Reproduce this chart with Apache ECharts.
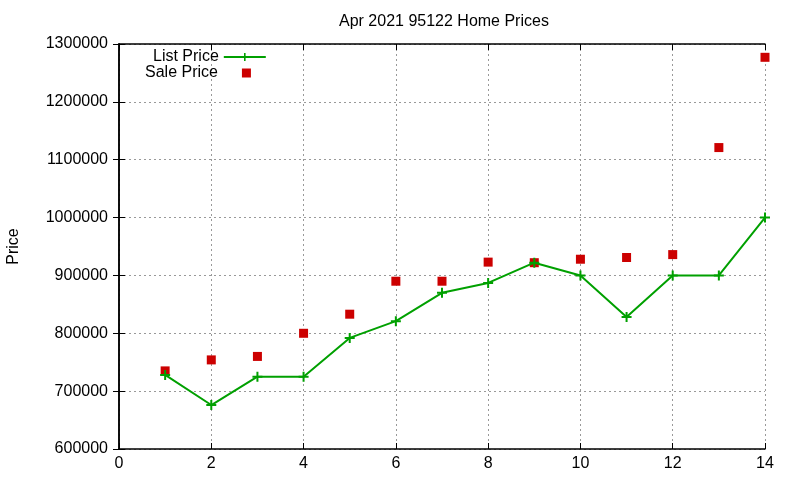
<!DOCTYPE html>
<html>
<head>
<meta charset="utf-8">
<style>
	html,body{margin:0;padding:0;background:#fff}
	#main{width:800px;height:480px}
</style>
<script src="https://cdn.jsdelivr.net/npm/echarts@6/dist/echarts.min.js"></script>
</head>
<body>
<div id="main"></div>
<script>
// months / listing number on x
var months = [1,2,3,4,5,6,7,8,9,10,11,12,13,14];
var listPrice = [728000,676000,725000,725000,792000,821000,870000,887000,922000,900000,828000,900000,900000,1000000];
var salePrice = [735000,754000,760000,800000,833000,890000,890000,923000,922000,928000,931000,936000,1121000,1277000];

var plus = 'path://M4,0H6V10H4ZM0,4H10V6H0Z';
var font = 'Liberation Sans, Arial, sans-serif';

function pairs(vals){
	var out = [];
	for (var i = 0; i < months.length; i++) out.push([months[i], vals[i]]);
	return out;
}

var myChart = echarts.init(document.getElementById('main'));
var tickStyle = {show:true, inside:true, length:6, lineStyle:{color:'#000', width:1}};
var option = {
	animation: false,
	title: {
		text: 'Apr 2021 95122 Home Prices',
		left: 334,
		top: 9,
		textStyle: {fontFamily: font, fontSize: 16, fontWeight: 'normal', color: '#000'}
	},
	legend: [{
		orient: 'vertical',
		left: 148,
		top: 44,
		align: 'right',
		itemWidth: 42,
		itemHeight: 10,
		textStyle: {fontFamily: font, fontSize: 16, color: '#000'},
		data: ['List Price']
	}, {
		orient: 'vertical',
		left: 140,
		top: 60,
		align: 'right',
		itemWidth: 9,
		itemHeight: 9,
		textStyle: {fontFamily: font, fontSize: 16, color: '#000', padding: [0, 19, 0, 0]},
		data: ['Sale Price']
	}],
	grid: {left: 119, right: 35, top: 44, bottom: 31, outerBoundsMode: 'none'},
	xAxis: [{
		type: 'value', min: 0, max: 14, interval: 2,
		axisLine: {lineStyle: {color: '#000', width: 1.5}},
		axisTick: tickStyle,
		axisLabel: {fontFamily: font, fontSize: 16, color: '#000', margin: 7},
		splitLine: {show: true, lineStyle: {color: '#999', type: [2, 3], width: 1}}
	}, {
		type: 'value', min: 0, max: 14, interval: 2, position: 'top',
		axisLine: {show: true, lineStyle: {color: '#000', width: 1.5}},
		axisTick: tickStyle, axisLabel: {show: false}, splitLine: {show: false}
	}],
	yAxis: [{
		type: 'value', min: 600000, max: 1300000, interval: 100000,
		name: 'Price', nameLocation: 'middle', nameGap: 97, nameRotate: 90,
		nameTextStyle: {fontFamily: font, fontSize: 16, color: '#000'},
		axisLine: {show: true, lineStyle: {color: '#000', width: 1.5}},
		axisTick: tickStyle,
		axisLabel: {fontFamily: font, fontSize: 16, color: '#000', margin: 11,
			formatter: function (v) { return String(v); }},
		splitLine: {show: true, lineStyle: {color: '#999', type: [2, 3], width: 1}}
	}, {
		type: 'value', min: 600000, max: 1300000, interval: 100000, position: 'right',
		axisLine: {show: true, lineStyle: {color: '#000', width: 1.5}},
		axisTick: tickStyle, axisLabel: {show: false}, splitLine: {show: false}
	}],
	series: [{
		name: 'List Price',
		type: 'line',
		data: pairs(listPrice),
		symbol: plus,
		symbolSize: 10,
		showAllSymbol: true,
		itemStyle: {color: '#00a000'},
		lineStyle: {color: '#00a000', width: 2}
	}, {
		name: 'Sale Price',
		type: 'scatter',
		data: pairs(salePrice),
		symbol: 'rect',
		symbolSize: 9,
		itemStyle: {color: '#cc0000', opacity: 1}
	}]
};
myChart.setOption(option);
</script>
</body>
</html>
